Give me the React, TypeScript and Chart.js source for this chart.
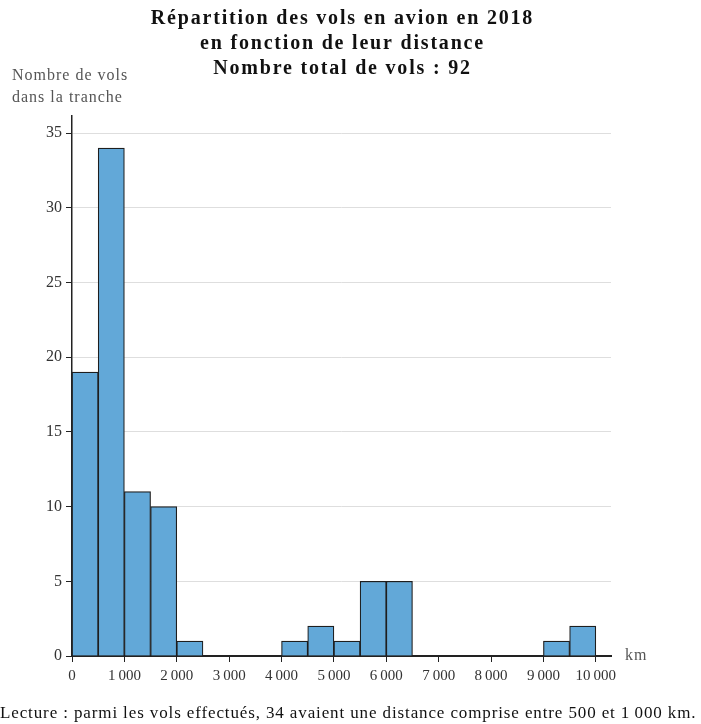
import React, { useEffect, useRef } from "react";
import { Chart, registerables } from "chart.js";

Chart.register(...registerables);

const binStarts = [0, 500, 1000, 1500, 2000, 2500, 3000, 3500, 4000, 4500, 5000, 5500, 6000, 6500, 7000, 7500, 8000, 8500, 9000, 9500];
const binWidth = 500;
const counts = [19, 34, 11, 10, 1, 0, 0, 0, 1, 2, 1, 5, 5, 0, 0, 0, 0, 0, 1, 2];
const xTickValues = [0, 1000, 2000, 3000, 4000, 5000, 6000, 7000, 8000, 9000, 10000];
const yTickValues = [0, 5, 10, 15, 20, 25, 30, 35];
const titleLines = ["Répartition des vols en avion en 2018", "en fonction de leur distance", "Nombre total de vols : 92"];
const yTitleLines = ["Nombre de vols", "dans la tranche"];
const xUnit = "km";
const caption = "Lecture : parmi les vols effectués, 34 avaient une distance comprise entre 500 et 1\u2009000 km.";

const FONT = "'Liberation Serif', serif";

function fmt(v: number) {
  const s = String(v);
  if (v >= 1000) return s.slice(0, s.length - 3) + "\u2009" + s.slice(-3);
  return s;
}

const textPlugin = {
  id: "texts",
  afterDraw(chart: any) {
    const ctx = chart.ctx;
    const area = chart.chartArea;
    ctx.save();
    ctx.fillStyle = "#111";
    ctx.textAlign = "center";
    ctx.textBaseline = "middle";
    ctx.font = `bold 20px ${FONT}`;
    ctx.letterSpacing = "1.8px";
    const cx = (area.left + area.right) / 2 + 1;
    titleLines.forEach((l, i) => ctx.fillText(l, cx, 19 + i * 25));
    ctx.fillStyle = "#555";
    ctx.font = `16px ${FONT}`;
    ctx.letterSpacing = "1px";
    ctx.textAlign = "left";
    yTitleLines.forEach((l, i) => ctx.fillText(l, 12, 76 + i * 22));
    const ys = chart.scales.y;
    ctx.fillText(xUnit, area.right + 14, ys.getPixelForValue(0));
    ctx.fillStyle = "#111";
    ctx.font = `17px ${FONT}`;
    ctx.letterSpacing = "0.88px";
    ctx.fillText(caption, 0, 714);
    ctx.restore();
  },
};

export default function App() {
  const ref = useRef<HTMLCanvasElement>(null);
  useEffect(() => {
    document.body.style.margin = "0";
    const data = binStarts.map((s, i) => ({ x: s + binWidth / 2, y: counts[i] }));
    const chart = new Chart(ref.current!, {
      type: "bar",
      data: {
        datasets: [
          {
            data,
            backgroundColor: "#62a8d8",
            borderColor: "#1e1e1e",
            borderWidth: 1.2,
            barPercentage: 1,
            categoryPercentage: 1,
          },
        ],
      },
      options: {
        animation: false,
        responsive: false,
        events: [],
        layout: { padding: { left: 0, right: 90, top: 116, bottom: 0 } },
        plugins: { legend: { display: false }, tooltip: { enabled: false }, title: { display: false } },
        scales: {
          x: {
            type: "linear",
            offset: false,
            min: 0,
            max: 10290,
            afterBuildTicks: (s: any) => {
              s.ticks = xTickValues.map((v) => ({ value: v }));
            },
            afterFit: (s: any) => {
              s.height = 68;
            },
            ticks: {
              includeBounds: false,
              callback: (v: any) => fmt(Number(v)),
              font: { family: FONT, size: 15 },
              color: "#333",
              padding: 5,
              maxRotation: 0,
              autoSkip: false,
            },
            grid: { drawOnChartArea: false, drawTicks: true, tickLength: 6, color: "#222", offset: false },
            border: { color: "#222", width: 2 },
          },
          y: {
            min: 0,
            max: 36.15,
            afterBuildTicks: (s: any) => {
              s.ticks = yTickValues.map((v) => ({ value: v }));
            },
            afterFit: (s: any) => {
              s.width = 72;
            },
            ticks: {
              font: { family: FONT, size: 16 },
              color: "#333",
              padding: 4,
            },
            grid: { color: "#dedede", tickLength: 6, tickColor: "#222", lineWidth: 1 },
            border: { color: "#222", width: 1.5 },
          },
        },
      },
      plugins: [textPlugin],
    } as any);
    return () => chart.destroy();
  }, []);
  return <canvas ref={ref} width={701} height={724} style={{ display: "block" }} />;
}
